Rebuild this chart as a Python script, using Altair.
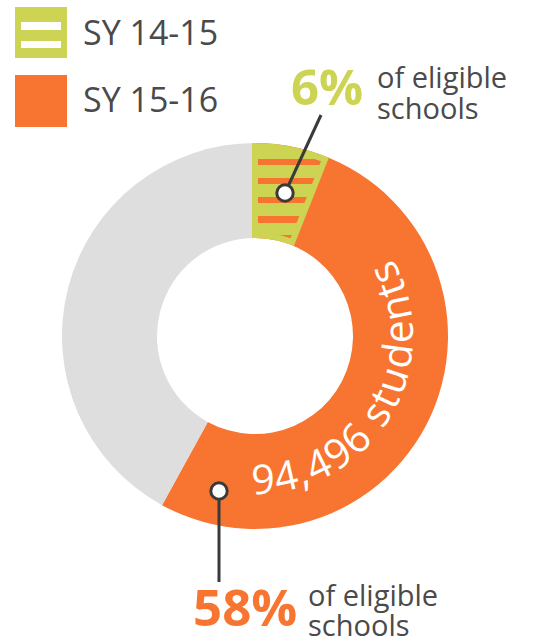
import math
import altair as alt
import pandas as pd

# ---------------- data ----------------
legend_labels = ["SY 14-15", "SY 15-16"]
school_share = [6, 58]          # % of eligible schools: SY 14-15, SY 15-16
pct_labels = ["6%", "58%"]
note_lines = ["of eligible", "schools"]
students_text = "94,496 students"

# ---------------- style / layout ----------------
GREEN = "#cdd352"
ORANGE = "#f77530"
GRAY = "#dedede"
TEXT = "#4a4a4a"
DARK = "#3a3a3a"
FONT = "Open Sans"

W, H = 541, 643
CX, CY = 255, 336
R_OUT, R_IN = 193, 98

theta_scale = alt.Scale(domain=[0, 100])


def striped(base, stripe, bands):
    stops = [alt.GradientStop(offset=0, color=base)]
    for a, b in bands:
        stops += [alt.GradientStop(offset=a, color=base),
                  alt.GradientStop(offset=a, color=stripe),
                  alt.GradientStop(offset=b, color=stripe),
                  alt.GradientStop(offset=b, color=base)]
    stops.append(alt.GradientStop(offset=1, color=base))
    return alt.LinearGradient(gradient="linear", stops=stops, x1=0, x2=0, y1=0, y2=1)


# ring: SY 15-16 share and remainder
ring = pd.DataFrame({
    "seg": [legend_labels[1], "rest"],
    "start": [0, school_share[1]],
    "end": [school_share[1], 100],
    "color": [ORANGE, GRAY],
})
ring_layer = alt.Chart(ring).mark_arc(outerRadius=R_OUT, innerRadius=R_IN).encode(
    theta=alt.Theta("start:Q", scale=theta_scale),
    theta2="end:Q",
    color=alt.Color("color:N", scale=None),
    x=alt.value(CX), y=alt.value(CY),
)

# SY 14-15 striped segment
green = pd.DataFrame({"seg": [legend_labels[0]], "start": [0], "end": [school_share[0]]})
green_fill = striped(GREEN, ORANGE, [(0.135, 0.198), (0.333, 0.396), (0.531, 0.594),
                                     (0.728, 0.801), (0.926, 0.999)])
green_layer = alt.Chart(green).mark_arc(
    outerRadius=R_OUT - 3, innerRadius=R_IN + 3, fill=green_fill,
    stroke=GREEN, strokeWidth=6,
).encode(
    theta=alt.Theta("start:Q", scale=theta_scale),
    theta2="end:Q",
    x=alt.value(CX), y=alt.value(CY),
)

# curved "94,496 students"
adv_em = {"9": .572, "4": .572, "6": .572, ",": .26, " ": .26, "s": .479, "t": .361,
          "u": .623, "d": .623, "e": .561, "n": .623}
FS_ARC, TRACK, R_TXT, START = 41, 1.8, 158, 181.0
rows, cum = [], 0.0
for i, ch in enumerate(students_text):
    w = adv_em[ch] * FS_ARC
    deg = START - (cum + w / 2) / R_TXT * 180 / math.pi
    rows.append({"i": i, "ch": ch, "th": deg / 3.6, "ang": (deg + 180) % 360})
    cum += w + TRACK
arc_txt = pd.DataFrame(rows)
arc_text_layer = alt.Chart(arc_txt).mark_text(
    font=FONT, fontSize=FS_ARC, color="white", align="center", baseline="alphabetic"
).encode(
    theta=alt.Theta("th:Q", scale=theta_scale),
    radius=alt.value(R_TXT),
    text="ch:N",
    angle=alt.Angle("ang:Q", scale=None),
    x=alt.value(CX), y=alt.value(CY),
)


def one(text):
    return pd.DataFrame({"t": [text]})


def label(text, x, y, size, color, weight="normal"):
    return alt.Chart(one(text)).mark_text(
        align="left", baseline="alphabetic", font=FONT, fontSize=size,
        fontWeight=weight, color=color,
    ).encode(text="t:N", x=alt.value(x), y=alt.value(y))


def rule(x, y, x2, y2):
    return alt.Chart(one("r")).mark_rule(color=DARK, strokeWidth=3).encode(
        x=alt.value(x), y=alt.value(y), x2=alt.value(x2), y2=alt.value(y2))


def dot(x, y):
    return alt.Chart(one("d")).mark_point(
        shape="circle", filled=True, fill="white", stroke=DARK, strokeWidth=3,
        size=270, opacity=1,
    ).encode(x=alt.value(x), y=alt.value(y))


# legend swatches
legend_green = alt.Chart(one(legend_labels[0])).mark_rect(
    fill=striped(GREEN, "white", [(0.267, 0.444), (0.689, 0.844)]),
    stroke=GREEN, strokeWidth=6,
).encode(x=alt.value(18), x2=alt.value(64), y=alt.value(10), y2=alt.value(55))
legend_orange = alt.Chart(one(legend_labels[1])).mark_rect(fill=ORANGE).encode(
    x=alt.value(15), x2=alt.value(67), y=alt.value(75), y2=alt.value(127))

layers = [
    ring_layer, green_layer, arc_text_layer,
    rule(285, 193, 321, 115), rule(219, 491, 219, 582),
    dot(285, 193), dot(219, 491),
    legend_green, legend_orange,
    label(legend_labels[0], 83, 45, 34, TEXT),
    label(legend_labels[1], 83, 112, 34, TEXT),
    label(pct_labels[0], 291, 105, 49, GREEN, "bold"),
    label(note_lines[0], 377, 88, 29, TEXT),
    label(note_lines[1], 377, 119, 29, TEXT),
    label(pct_labels[1], 193, 626, 51, ORANGE, "bold"),
    label(note_lines[0], 308, 606, 29, TEXT),
    label(note_lines[1], 308, 636, 29, TEXT),
]

chart = alt.layer(*layers).properties(
    width=W, height=H, padding=0, autosize="none", background="white"
).configure_view(stroke=None)

chart.save("out.html", embed_options={"renderer": "svg", "actions": False})
